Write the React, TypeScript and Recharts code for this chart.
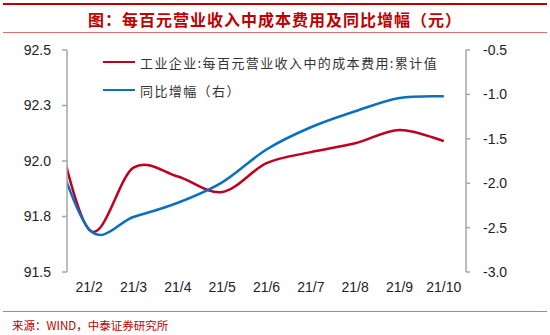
import React from 'react';
import { LineChart, Line, XAxis, YAxis, Legend } from 'recharts';

// monthly points; 21/1 sits just left of the visible axis and is clipped
const months = ['21/1', '21/2', '21/3', '21/4', '21/5', '21/6', '21/7', '21/8', '21/9', '21/10'];
const costPer100 = [92.37, 91.69, 91.97, 91.93, 91.86, 91.99, 92.04, 92.08, 92.14, 92.09];
const yoyChange = [-1.28, -2.52, -2.38, -2.22, -1.99, -1.62, -1.37, -1.19, -1.04, -1.02];

const leftTicks = [91.5, 91.75, 92.0, 92.25, 92.5];
const rightTicks = [-3.0, -2.5, -2.0, -1.5, -1.0, -0.5];
const boundaryTicks = [1.5, 2.5, 3.5, 4.5, 5.5, 6.5, 7.5, 8.5, 9.5, 10.5];
const labelTicks = [2, 3, 4, 5, 6, 7, 8, 9, 10];

const seriesNames = ['工业企业:每百元营业收入中的成本费用:累计值', '同比增幅（右）'];
const title = '图：每百元营业收入中成本费用及同比增幅（元）';
const source = '来源：WIND，中泰证券研究所';

const RED = '#C00020';
const BLUE = '#0A70C2';
const AXIS = '#A6A6A6';
const TEXT = '#222';

const data = months.map((m, i) => ({ x: i + 1, label: m, cost: costPer100[i], yoy: yoyChange[i] }));

// Excel-like smoothing (Catmull-Rom through every point)
function smoothCurve(context: any) {
  let pts: number[][] = [];
  return {
    areaStart() {},
    areaEnd() {},
    lineStart() {
      pts = [];
    },
    point(x: number, y: number) {
      pts.push([+x, +y]);
    },
    lineEnd() {
      if (!pts.length) return;
      context.moveTo(pts[0][0], pts[0][1]);
      for (let i = 0; i < pts.length - 1; i++) {
        const p0 = pts[Math.max(i - 1, 0)];
        const p1 = pts[i];
        const p2 = pts[i + 1];
        const p3 = pts[Math.min(i + 2, pts.length - 1)];
        context.bezierCurveTo(
          p1[0] + (p2[0] - p0[0]) / 6,
          p1[1] + (p2[1] - p0[1]) / 6,
          p2[0] - (p3[0] - p1[0]) / 6,
          p2[1] - (p3[1] - p1[1]) / 6,
          p2[0],
          p2[1]
        );
      }
    },
  };
}

const fmt1 = (v: number) => v.toFixed(1);
const monthLabel = (v: number) => months[v - 1] ?? '';

function LegendBox() {
  const colors = [RED, BLUE];
  return (
    <div>
      {seriesNames.map((name, i) => (
        <div key={name} style={{ display: 'flex', alignItems: 'center', height: 28 }}>
          <div style={{ width: 32, height: 2.5, background: colors[i], marginRight: 5 }} />
          <span
            style={{
              fontFamily: '"Noto Sans CJK SC", sans-serif',
              fontSize: 13,
              letterSpacing: 1.4,
              color: '#333',
              whiteSpace: 'nowrap',
            }}
          >
            {name}
          </span>
        </div>
      ))}
    </div>
  );
}

export default function App() {
  const tickStyle = { fontSize: 14, fill: TEXT, fontFamily: '"Liberation Sans", Arial, sans-serif' };
  return (
    <div style={{ position: 'absolute', left: 0, top: 0, width: 550, height: 335, background: '#fff' }}>
      <div style={{ position: 'absolute', left: 3, top: 3, width: 544, height: 2, background: '#C00000' }} />
      <div
        style={{
          position: 'absolute',
          left: 0,
          top: 8,
          width: 550,
          textAlign: 'center',
          fontFamily: '"Noto Sans CJK SC", sans-serif',
          fontWeight: 700,
          fontSize: 16,
          letterSpacing: 1,
          color: '#C00000',
          lineHeight: '22px',
        }}
      >
        {title}
      </div>
      <div style={{ position: 'absolute', left: 3, top: 32, width: 544, height: 1, background: '#E07070' }} />

      <div style={{ position: 'absolute', left: 0, top: 0 }}>
        <LineChart width={550} height={335} data={data} margin={{ top: 50, right: 24, bottom: 33, left: 0 }}>
          <XAxis
            xAxisId="main"
            type="number"
            dataKey="x"
            domain={[1.5, 10.5]}
            ticks={boundaryTicks}
            allowDataOverflow
            tick={false}
            tickSize={4}
            height={0}
            axisLine={{ stroke: AXIS, strokeWidth: 1.5 }}
            tickLine={{ stroke: AXIS, strokeWidth: 1.5 }}
          />
          <XAxis
            xAxisId="lbl"
            type="number"
            dataKey="x"
            domain={[1.5, 10.5]}
            ticks={labelTicks}
            allowDataOverflow
            tickFormatter={monthLabel}
            axisLine={false}
            tickLine={false}
            tickSize={4}
            tickMargin={6}
            height={30}
            tick={tickStyle}
          />
          <YAxis
            yAxisId="l"
            domain={[91.5, 92.5]}
            ticks={leftTicks}
            tickFormatter={fmt1}
            width={67}
            tickSize={5}
            tickMargin={11}
            tick={tickStyle}
            axisLine={{ stroke: AXIS, strokeWidth: 1.5 }}
            tickLine={{ stroke: AXIS, strokeWidth: 1.5 }}
          />
          <YAxis
            yAxisId="r"
            orientation="right"
            domain={[-3, -0.5]}
            ticks={rightTicks}
            tickFormatter={fmt1}
            width={60}
            tickSize={4}
            tickMargin={13}
            tick={{ ...tickStyle, textAnchor: 'start' }}
            axisLine={{ stroke: AXIS, strokeWidth: 1.5 }}
            tickLine={{ stroke: AXIS, strokeWidth: 1.5 }}
          />
          <Legend
            layout="vertical"
            align="center"
            verticalAlign="middle"
            content={() => <LegendBox />}
            wrapperStyle={{ left: 103, top: 48, width: 360 }}
          />
          <Line
            xAxisId="main"
            yAxisId="l"
            dataKey="cost"
            name={seriesNames[0]}
            type={smoothCurve as any}
            stroke={RED}
            strokeWidth={2.5}
            dot={false}
            isAnimationActive={false}
          />
          <Line
            xAxisId="main"
            yAxisId="r"
            dataKey="yoy"
            name={seriesNames[1]}
            type={smoothCurve as any}
            stroke={BLUE}
            strokeWidth={2.5}
            dot={false}
            isAnimationActive={false}
          />
        </LineChart>
      </div>

      <div style={{ position: 'absolute', left: 3, top: 311, width: 544, height: 1, background: '#E07070' }} />
      <div
        style={{
          position: 'absolute',
          left: 12,
          top: 317,
          fontFamily: '"Noto Sans CJK SC", sans-serif',
          fontSize: 11.5,
          color: '#C00000',
          whiteSpace: 'nowrap',
        }}
      >
        {source}
      </div>
    </div>
  );
}
